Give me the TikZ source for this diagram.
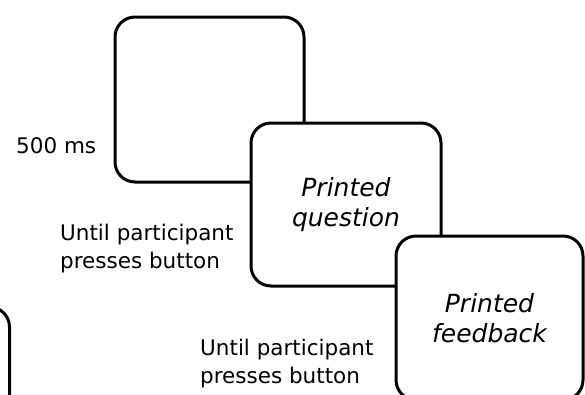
\documentclass[tikz,border=0pt]{standalone}
\usepackage{fontspec}
\setmainfont{DejaVu Sans}
\begin{document}
\begin{tikzpicture}[x=1pt,y=-1pt,
  screen/.style={draw=black, fill=white, line width=3pt, rounded corners=20pt,
    inner sep=0pt, align=center, font=\fontsize{25}{30}\selectfont\itshape},
  note/.style={inner sep=0pt, align=left, font=\fontsize{21.5}{28.5}\selectfont, anchor=base west}]
\useasboundingbox (0,0) rectangle (585,394);
\clip (0,0) rectangle (585,394);
\node[screen, minimum width=190pt, minimum height=164pt] (s0) at (-85.5,389) {};
\node[screen, minimum width=189pt, minimum height=165pt] (s1) at (209.5,99.5) {};
\node[screen, minimum width=190pt, minimum height=163pt] (s2) at (346,204.5) {Printed\\question};
\node[screen, minimum width=187pt, minimum height=164pt] (s3) at (489.5,318) {Printed\\feedback};
\node[note] (t1) at (16,153) {500 ms};
\node[note] (t2) at (60,268.5) {Until participant\\presses button};
\node[note] (t3) at (200,383.5) {Until participant\\presses button};
\end{tikzpicture}
\end{document}
